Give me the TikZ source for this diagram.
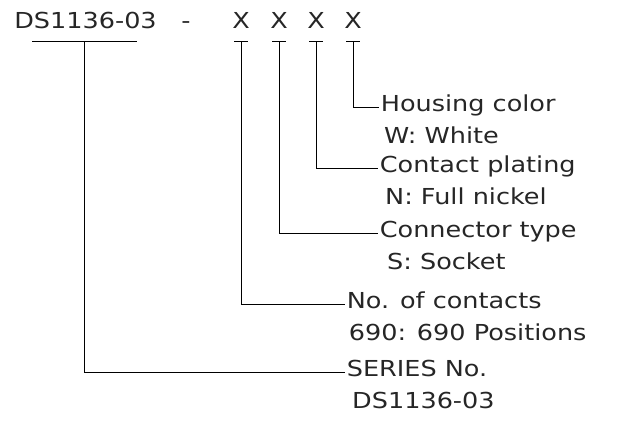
\documentclass[tikz,border=0pt]{standalone}
\usepackage{fontspec}
\setmainfont{DejaVu Sans}[FakeStretch=1.16]
\usetikzlibrary{positioning}

\begin{document}
\begin{tikzpicture}[
  x=0.75pt,y=-0.75pt,
  every node/.style={font=\fontsize{16.5}{18}\selectfont,text=black!85},
  code/.style={inner sep=0pt,anchor=base},
  note/.style={inner sep=0pt,inner xsep=1.2pt,text height=0.73em,text depth=0pt,anchor=west},
  lead/.style={line width=0.6pt},
  node distance=24pt
]
  \useasboundingbox (0,0) rectangle (640,422);
  % part number
  \node[code,anchor=base west] (pn) at (14,28) {DS1136-03};
  \node[code] (dash) at (186,28) {-};
  \coordinate (s) at (84,41);
  \draw[lead] (32,41) -- (137,41);
  \foreach \n/\x in {1/241,2/279,3/316,4/353}{
    \node[code] (x\n) at (\x,28) {X};
    \coordinate (u\n) at (\x,41);
    \draw[lead] ([xshift=-5pt]u\n) -- ([xshift=5pt]u\n);
  }
  % descriptions
  \node[note] (housing) at (379,107) {Housing color};
  \node[note,below=of housing.west,anchor=west,xshift=2.5pt] (white) {W: White};
  \node[note] (plating) at (378,168) {Contact plating};
  \node[note,below=of plating.west,anchor=west,xshift=4pt] (nickel) {N: Full nickel};
  \node[note] (ctype) at (378,233) {Connector type};
  \node[note,below=of ctype.west,anchor=west,xshift=5.5pt] (socket) {S: Socket};
  \node[note] (contacts) at (345,304) {No. of contacts};
  \node[note,below=of contacts.west,anchor=west,xshift=1.5pt] (positions) {690: 690 Positions};
  \node[note] (series) at (345,372) {SERIES No.};
  \node[note,below=of series.west,anchor=west,xshift=4pt] (seriesno) {DS1136-03};
  \foreach \a/\b in {u4/housing,u3/plating,u2/ctype,u1/contacts,s/series}
    \draw[lead] (\a) |- (\b.west);
\end{tikzpicture}
\end{document}
